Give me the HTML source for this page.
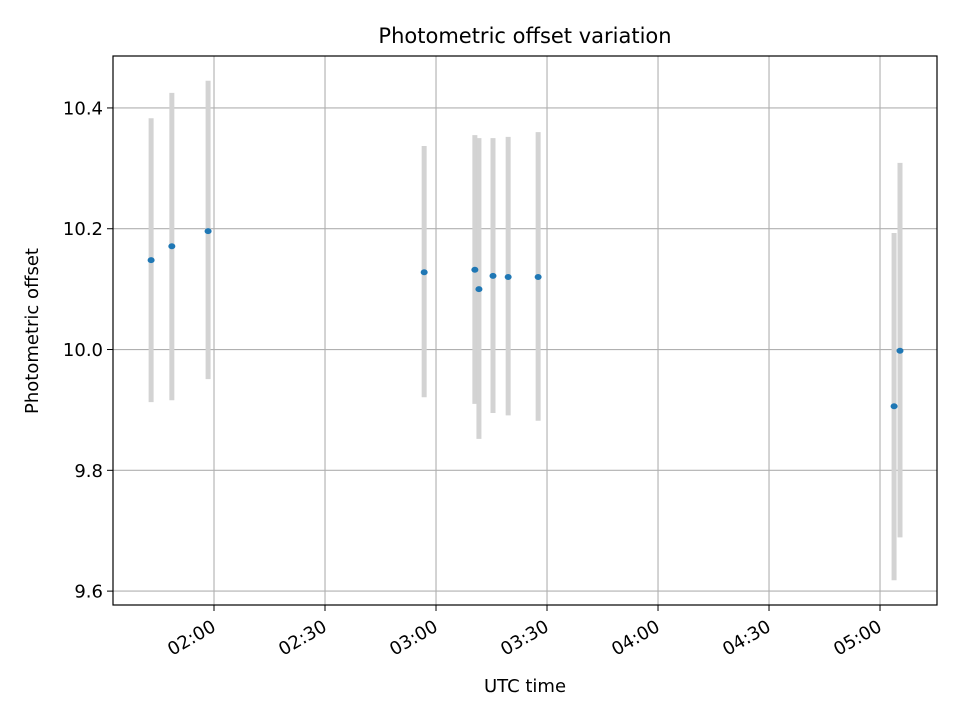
<!DOCTYPE html>
<html><head><meta charset="utf-8"><style>
body{margin:0;background:#fff}
svg{font-family:"DejaVu Sans","Liberation Sans",sans-serif}
</style></head><body>
<svg id="chart" width="960" height="720" xmlns="http://www.w3.org/2000/svg">
<rect width="960" height="720" fill="#fff"/>
<g id="grid"></g>
<g id="marks"></g>
<rect x="113" y="56" width="824" height="549" fill="none" stroke="#000" stroke-width="1.2"/>
<g id="axes"></g>
<text x="525" y="43" text-anchor="middle" font-size="21">Photometric offset variation</text>
<text x="525" y="692" text-anchor="middle" font-size="18">UTC time</text>
<text x="38" y="331" text-anchor="middle" font-size="18" transform="rotate(-90 38 331)">Photometric offset</text>
</svg>
<script>
// minutes after 02:00 UTC
const times = [-17.0, -11.4, -1.6, 56.8, 70.5, 71.6, 75.4, 79.5, 87.6, 183.8, 185.4];
const offsets = [10.148, 10.171, 10.196, 10.128, 10.132, 10.100, 10.122, 10.120, 10.120, 9.906, 9.998];
const errLow = [9.913, 9.916, 9.951, 9.921, 9.910, 9.852, 9.895, 9.891, 9.882, 9.618, 9.689];
const errHigh = [10.383, 10.425, 10.445, 10.337, 10.355, 10.350, 10.350, 10.352, 10.360, 10.193, 10.309];
const yTicks = [9.6, 9.8, 10.0, 10.2, 10.4];
const xTickMinutes = [0, 30, 60, 90, 120, 150, 180];
const xTickLabels = ["02:00", "02:30", "03:00", "03:30", "04:00", "04:30", "05:00"];

const NS = "http://www.w3.org/2000/svg";
const X0 = 113, X1 = 937, Y0 = 56, Y1 = 605;
const xMin = -27.3, xMax = 195.4, yMin = 9.577, yMax = 10.486;
const xs = m => X0 + (m - xMin) / (xMax - xMin) * (X1 - X0);
const ys = v => Y1 - (v - yMin) / (yMax - yMin) * (Y1 - Y0);
function mk(tag, attrs, parent) {
  const e = document.createElementNS(NS, tag);
  for (const k in attrs) e.setAttribute(k, attrs[k]);
  document.getElementById(parent).appendChild(e);
  return e;
}
yTicks.forEach(v => {
  const y = ys(v);
  const g = mk("line", {x1: X0, x2: X1, y1: y, y2: y, stroke: "#b0b0b0", "stroke-width": 1.1}, "grid");
  
  
  const t = mk("line", {x1: X0 - 6, x2: X0, y1: y, y2: y, stroke: "#000"}, "axes");
  
  
  const l = mk("text", {x: X0 - 10, y: y + 6.5, "text-anchor": "end", "font-size": 18}, "axes");
  l.textContent = v.toFixed(1);
  
  
});
xTickMinutes.forEach((m, i) => {
  const x = xs(m);
  const g = mk("line", {x1: x, x2: x, y1: Y0, y2: Y1, stroke: "#b0b0b0", "stroke-width": 1.1}, "grid");
  
  
  const t = mk("line", {x1: x, x2: x, y1: Y1, y2: Y1 + 6, stroke: "#000"}, "axes");
  
  
  const l = mk("text", {x: x + 3, y: Y1 + 25, "text-anchor": "end", "font-size": 18, transform: `rotate(-30 ${x + 3} ${Y1 + 25})`}, "axes");
  l.textContent = xTickLabels[i];
  
  
});
times.forEach((m, i) => {
  const x = xs(m);
  const e = mk("line", {x1: x, x2: x, y1: ys(errHigh[i]), y2: ys(errLow[i]), stroke: "#d3d3d3", "stroke-width": 5}, "marks");
  
  
});
times.forEach((m, i) => {
  const p = mk("ellipse", {cx: xs(m), cy: ys(offsets[i]), rx: 3.5, ry: 3, fill: "#1f77b4"}, "marks");
  
  
});
</script>
</body></html>
